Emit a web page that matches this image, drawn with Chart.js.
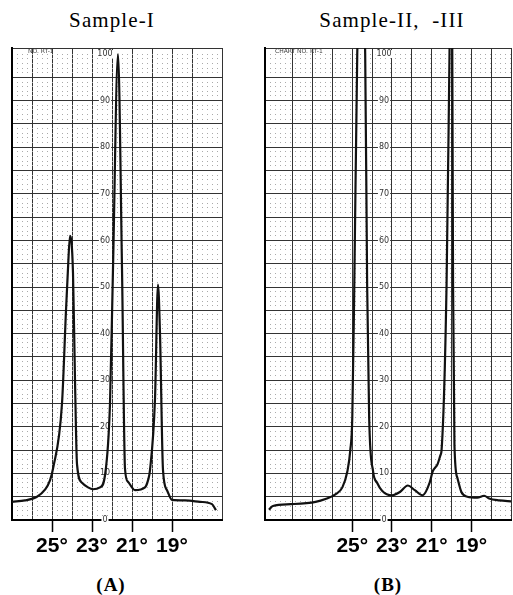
<!DOCTYPE html>
<html>
<head>
<meta charset="utf-8">
<script src="https://cdn.jsdelivr.net/npm/chart.js@4.4.1/dist/chart.umd.min.js"></script>
<style>
  body { margin: 0; background: #fff; width: 513px; height: 595px; overflow: hidden; position: relative; }
  .cap { position: absolute; font-family: "Liberation Serif", "DejaVu Serif", serif; color: #000; transform: translateX(-50%); white-space: nowrap; }
  .title { font-size: 21px; line-height: 21px; letter-spacing: 1.1px; top: 10px; }
  .panel { font-size: 19px; line-height: 19px; font-weight: bold; letter-spacing: 1px; top: 575px; }
  .box { position: absolute; top: 0; height: 595px; }
</style>
</head>
<body>
<div class="cap title" style="left:112px">Sample-I</div>
<div class="cap title" style="left:392px">Sample-II,&nbsp; -III</div>
<div class="cap panel" style="left:111px">(A)</div>
<div class="cap panel" style="left:388px">(B)</div>
<div class="box" style="left:0; width:245px"><canvas id="chartA"></canvas></div>
<div class="box" style="left:245px; width:268px"><canvas id="chartB"></canvas></div>
<script>
// 2-theta tick labels and the printed intensity scale on the chart paper
const tickDegrees = [25, 23, 21, 19];
const intensityLabels = [100, 90, 80, 70, 60, 50, 40, 30, 20, 10, 0];

// Sample-I trace (degrees, relative intensity)
const anglesA = [27.0, 26.35, 25.75, 25.35, 25.1, 24.95, 24.5, 24.3, 24.2, 24.1,
  23.95, 23.85, 23.75, 23.5, 23.2, 22.95, 22.6, 22.35, 22.1, 21.95,
  21.7, 21.5, 21.35, 21.2, 20.85, 20.35, 20.2, 20.1, 19.85, 19.7,
  19.6, 19.45, 19.25, 19.0, 18.35, 17.6, 17.0, 16.8];
const intensityA = [3.9, 4.2, 5.0, 6.5, 8.5, 11, 25, 45, 54, 61,
  53, 30, 12, 8, 7, 6.6, 7, 9.6, 25, 54,
  100, 54, 11, 8.2, 6.4, 7, 8.5, 10.7, 26, 50.5,
  40, 10.7, 6.4, 4.3, 4.2, 3.9, 3.4, 2.1];

// Sample-II, -III trace (both big peaks run off the top of the paper)
const anglesB = [29.2, 29.0, 28.1, 26.85, 26.35, 25.85, 25.5, 25.25, 25.1, 25.0,
  24.9, 24.75, 24.55, 24.35, 24.25, 24.15, 23.95, 23.75, 23.5, 23.0,
  22.6, 22.2, 21.85, 21.45, 21.1, 20.95, 20.7, 20.55, 20.5, 20.25,
  20.1, 20.03, 19.96, 19.92, 19.85, 19.7, 19.5, 19.2, 18.7, 18.35,
  18.1, 17.6, 16.95];
const intensityB = [2.2, 3.0, 3.4, 3.9, 4.5, 5.5, 7, 10.4, 15, 22,
  50, 100, 125, 100, 50, 22, 10.4, 8, 6.3, 5.3,
  6, 7.4, 6.4, 5.3, 8, 10.4, 12, 14, 15, 50,
  100, 125, 100, 50, 16, 9, 6, 5, 4.8, 5.2,
  4.6, 4.2, 4.0];

const paperLabels = {
  id: 'paperLabels',
  beforeDatasetsDraw(chart, args, opts) {
    const { ctx, chartArea, scales: { x, y } } = chart;
    ctx.save();
    ctx.font = '8px "DejaVu Sans", sans-serif';
    ctx.textAlign = 'center';
    ctx.textBaseline = 'middle';
    const cx = x.getPixelForValue(opts.column);
    intensityLabels.forEach(v => {
      const py = y.getPixelForValue(v);
      const w = ctx.measureText(String(v)).width;
      ctx.fillStyle = '#fff';
      ctx.fillRect(cx - w / 2 - 1, py - 4, w + 2, 8);
      ctx.fillStyle = '#333';
      ctx.fillText(String(v), cx, py);
    });
    ctx.font = '6px "DejaVu Sans", sans-serif';
    ctx.textAlign = 'left';
    ctx.fillStyle = '#444';
    ctx.fillText(opts.header, chartArea.left + opts.headerOffset, chartArea.top + 3);
    ctx.restore();
  }
};

function makeChart(id, angles, values, xMax, xMin, column, header, headerOffset, pad) {
  const ctx = document.getElementById(id).getContext('2d');
  return new Chart(ctx, {
    type: 'line',
    data: {
      datasets: [{
        data: angles.map((a, i) => ({ x: a, y: values[i] })),
        borderColor: '#111',
        borderWidth: 2.2,
        pointRadius: 0,
        cubicInterpolationMode: 'monotone',
        fill: false,
      }],
    },
    options: {
      responsive: true,
      maintainAspectRatio: false,
      animation: false,
      layout: { padding: pad },
      plugins: {
        legend: { display: false },
        tooltip: { enabled: false },
        paperLabels: { column: column, header: header, headerOffset: headerOffset },
      },
      scales: {
        x: {
          type: 'linear',
          reverse: true,
          min: xMin,
          max: xMax,
          afterFit: s => { s.height = 75; },
          border: { display: true, color: '#000', width: 2 },
          grid: {
            color: '#333',
            lineWidth: 1,
            tickLength: 12,
            tickWidth: 1.5,
            tickColor: c => tickDegrees.includes(c.tick && c.tick.value) ? '#000' : 'rgba(0,0,0,0)',
          },
          ticks: {
            stepSize: 1,
            autoSkip: false,
            maxRotation: 0,
            padding: 2,
            color: '#000',
            font: { family: '"Liberation Sans", sans-serif', size: 21, weight: 'bold' },
            callback: v => tickDegrees.includes(v) ? v + '°' : '',
          },
        },
        ym: {
          type: 'linear',
          position: 'left',
          min: 0,
          max: 101.3,
          afterFit: s => { s.width = 0; },
          border: { display: false, dash: [1, 4] },
          grid: { color: '#aaa', lineWidth: 1, drawTicks: false },
          ticks: { stepSize: 1, display: false },
        },
        y: {
          type: 'linear',
          position: 'left',
          min: 0,
          max: 101.3,
          afterFit: s => { s.width = 0; },
          border: { display: true, color: '#000', width: 2 },
          grid: { color: '#333', lineWidth: 1, drawTicks: false },
          ticks: { stepSize: 5, display: false },
        },
      },
    },
    plugins: [paperLabels],
  });
}

makeChart('chartA', anglesA, intensityA, 27.0, 16.5, 22.35, 'NO. RT-1', 16, { left: 12, right: 23, top: 48, bottom: 0 });
makeChart('chartB', anglesB, intensityB, 29.4, 17.0, 23.4, 'CHART NO. RT-1', 10, { left: 20, right: 0, top: 48, bottom: 0 });
</script>
</body>
</html>
